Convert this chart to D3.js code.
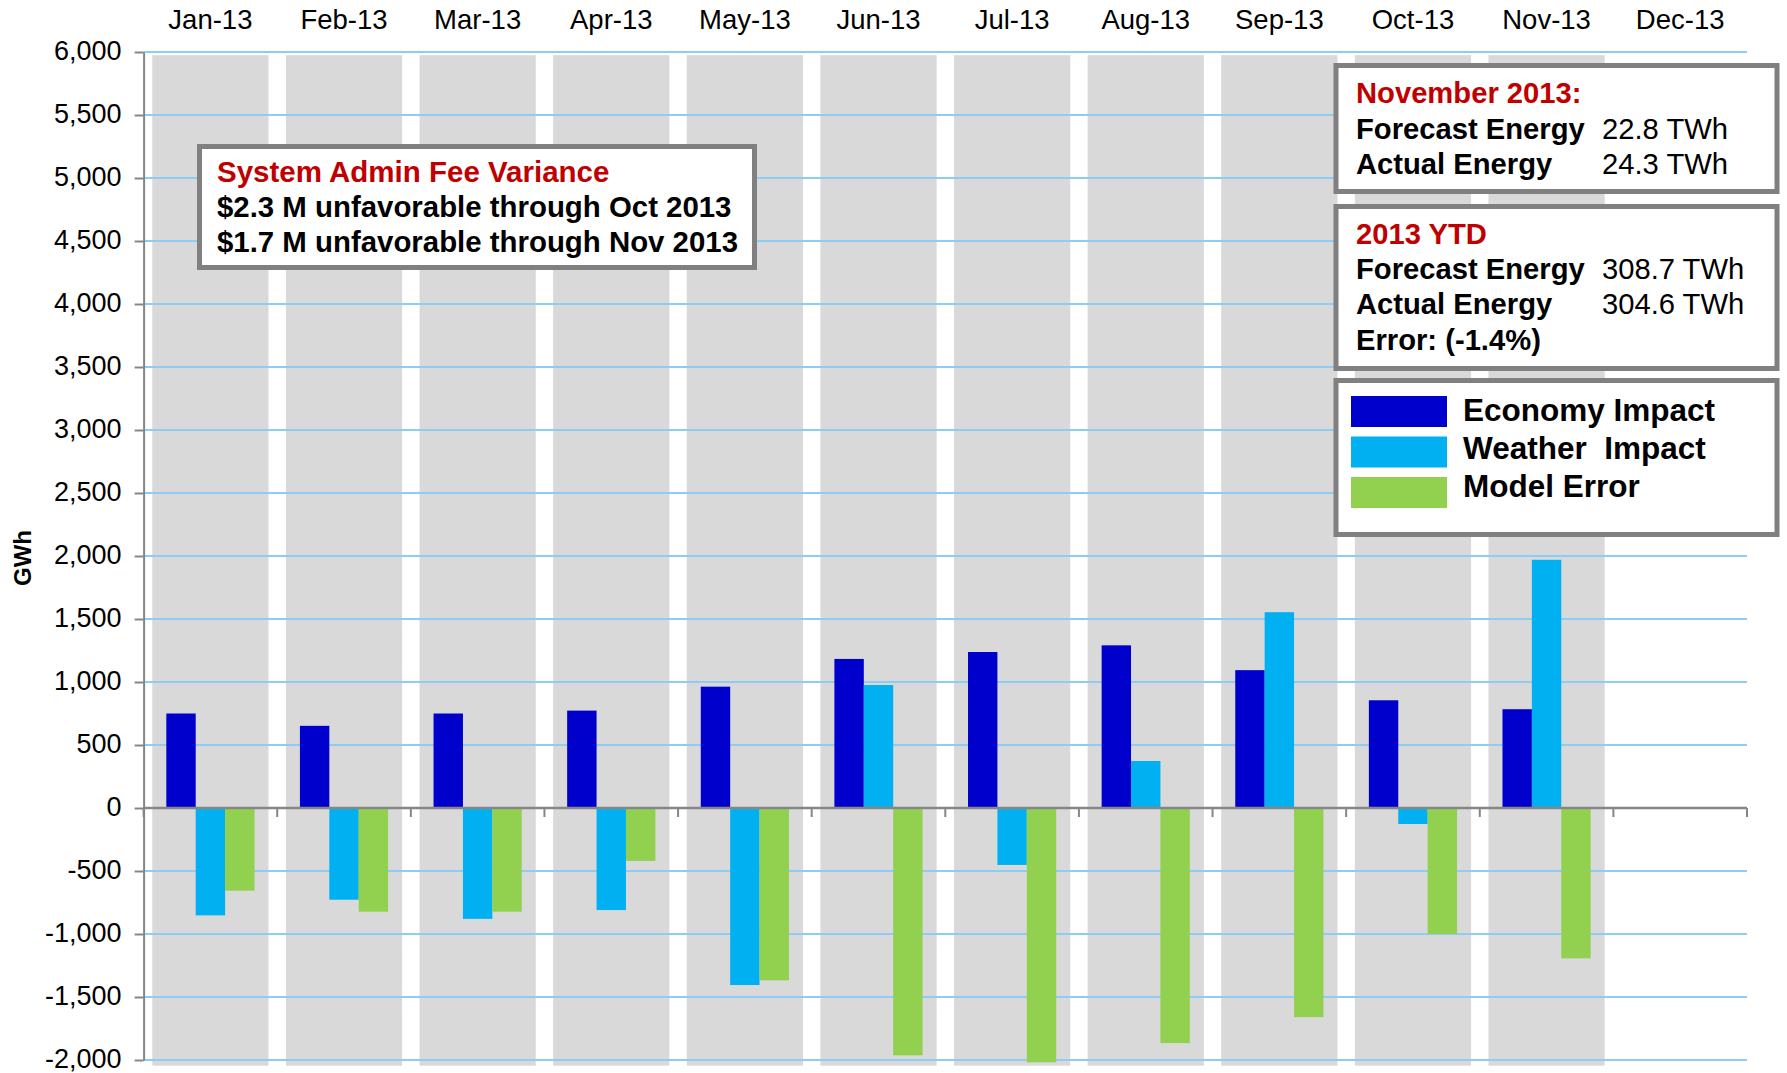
<!DOCTYPE html>
<html>
<head>
<meta charset="utf-8">
<script src="https://cdn.jsdelivr.net/npm/d3@7"></script>
<style>
  body { margin: 0; background: #fff; }
  svg { display: block; font-family: "Liberation Sans", Arial, sans-serif; }
</style>
</head>
<body>
<svg id="chart"></svg>
<script>
const months = ["Jan-13","Feb-13","Mar-13","Apr-13","May-13","Jun-13","Jul-13","Aug-13","Sep-13","Oct-13","Nov-13","Dec-13"];
const economy = [750, 652, 750, 773, 963, 1183, 1238, 1291, 1094, 855, 784, null];
const weather = [-852, -728, -880, -810, -1405, 976, -452, 373, 1554, -127, 1970, null];
const modelError = [-656, -823, -823, -420, -1368, -1963, -2018, -1866, -1660, -1000, -1193, null];
const shadedMonths = ["Jan-13","Feb-13","Mar-13","Apr-13","May-13","Jun-13","Jul-13","Aug-13","Sep-13","Oct-13","Nov-13"];
const yTicks = [-2000,-1500,-1000,-500,0,500,1000,1500,2000,2500,3000,3500,4000,4500,5000,5500,6000];

const seriesNames = ["Economy Impact", "Weather  Impact", "Model Error"];
const seriesColors = ["#0000cc", "#00b0f0", "#92d050"];

const W = 1787, H = 1073;
const margin = {top: 52, right: 40, bottom: 13, left: 143.6};

const svg = d3.select("#chart").attr("width", W).attr("height", H);

const x = d3.scaleBand().domain(months)
    .range([margin.left, W - margin.right]).paddingInner(0).paddingOuter(0);
const xShade = d3.scaleBand().domain(months)
    .range([margin.left, W - margin.right]).paddingInner(0.13).paddingOuter(0.065);
const xGroup = d3.scaleBand().domain(months)
    .range([margin.left, W - margin.right]).paddingInner(0.34).paddingOuter(0.17);
const xSub = d3.scaleBand().domain([0, 1, 2]).range([0, xGroup.bandwidth()]);
const y = d3.scaleLinear().domain([-2000, 6000]).range([H - margin.bottom, margin.top]);

// grey background columns
svg.append("g").selectAll("rect")
  .data(shadedMonths)
  .join("rect")
    .attr("x", d => xShade(d))
    .attr("width", xShade.bandwidth())
    .attr("y", y(5975))
    .attr("height", y(-2045) - y(5975))
    .attr("fill", "#d9d9d9");

// gridlines
svg.append("g").selectAll("line")
  .data(yTicks)
  .join("line")
    .attr("x1", margin.left)
    .attr("x2", W - margin.right)
    .attr("y1", d => y(d))
    .attr("y2", d => y(d))
    .attr("stroke", "#8ecbf5")
    .attr("stroke-width", 2);

// bars
const series = [economy, weather, modelError];
series.forEach((vals, i) => {
  svg.append("g").selectAll("rect")
    .data(months.map((m, j) => ({m, v: vals[j]})).filter(d => d.v != null))
    .join("rect")
      .attr("x", d => xGroup(d.m) + xSub(i))
      .attr("width", xSub.bandwidth())
      .attr("y", d => y(Math.max(0, d.v)))
      .attr("height", d => Math.abs(y(d.v) - y(0)))
      .attr("fill", seriesColors[i]);
});

// y axis
const fmt = d3.formatLocale({decimal: ".", thousands: ",", grouping: [3], currency: ["$", ""], minus: "-"}).format(",");
const yAxis = svg.append("g")
    .attr("transform", `translate(${margin.left},0)`)
    .call(d3.axisLeft(y).tickValues(yTicks).tickFormat(fmt).tickSize(9).tickPadding(13).tickSizeOuter(0));
yAxis.select(".domain").attr("stroke", "#868686").attr("stroke-width", 2);
yAxis.selectAll(".tick line").attr("stroke", "#868686").attr("stroke-width", 2);
yAxis.selectAll(".tick text").attr("font-size", 27).attr("fill", "#000").attr("dy", "0.28em");

// x axis line at zero with ticks between months
const xAxis = svg.append("g");
xAxis.append("line")
    .attr("x1", margin.left).attr("x2", W - margin.right)
    .attr("y1", y(0)).attr("y2", y(0))
    .attr("stroke", "#868686").attr("stroke-width", 2.5);
xAxis.selectAll(".xt")
  .data(d3.range(months.length + 1))
  .join("line")
    .attr("class", "xt")
    .attr("x1", i => margin.left + i * x.step())
    .attr("x2", i => margin.left + i * x.step())
    .attr("y1", y(0)).attr("y2", y(0) + 9)
    .attr("stroke", "#868686").attr("stroke-width", 2);

// month labels on top
const topAxis = svg.append("g")
    .attr("transform", "translate(0,36)")
    .call(d3.axisTop(x).tickSize(0).tickPadding(7));
topAxis.select(".domain").remove();
topAxis.selectAll(".tick text").attr("font-size", 27.5).attr("fill", "#000");

// y axis title
svg.append("text")
    .attr("transform", `translate(31,${558}) rotate(-90)`)
    .attr("text-anchor", "middle")
    .attr("font-size", 24).attr("font-weight", "bold")
    .text("GWh");

// annotation boxes
function box(x0, y0, w, h) {
  svg.append("rect")
    .attr("x", x0).attr("y", y0).attr("width", w).attr("height", h)
    .attr("fill", "#fff").attr("stroke", "#808080").attr("stroke-width", 5);
}
function label(tx, ty, str, opts = {}) {
  svg.append("text")
    .attr("x", tx).attr("y", ty)
    .attr("font-size", opts.size || 29.2)
    .attr("font-weight", opts.weight || "bold")
    .attr("fill", opts.color || "#000")
    .style("white-space", "pre")
    .text(str);
}

box(199.5, 146.5, 555, 121);
label(217, 182, "System Admin Fee Variance", {color: "#c00000", size: 29.5});
label(217, 217, "$2.3 M unfavorable through Oct 2013", {size: 29.4});
label(217, 252, "$1.7 M unfavorable through Nov 2013", {size: 29.4});

box(1336, 65.5, 441, 126);
label(1356, 103, "November 2013:", {color: "#c00000"});
label(1356, 139, "Forecast Energy");
label(1602, 139, "22.8 TWh", {weight: "normal"});
label(1356, 174, "Actual Energy");
label(1602, 174, "24.3 TWh", {weight: "normal"});

box(1336, 206.5, 441, 162);
label(1356, 244, "2013 YTD", {color: "#c00000"});
label(1356, 279, "Forecast Energy");
label(1602, 279, "308.7 TWh", {weight: "normal"});
label(1356, 314, "Actual Energy");
label(1602, 314, "304.6 TWh", {weight: "normal"});
label(1356, 350, "Error: (-1.4%)");

box(1336, 380.5, 441, 154);
const legend = svg.append("g");
seriesNames.forEach((name, i) => {
  legend.append("rect")
    .attr("x", 1351).attr("y", 396 + i * 40.5)
    .attr("width", 96).attr("height", 31)
    .attr("fill", seriesColors[i]);
  legend.append("text")
    .attr("x", 1463).attr("y", 421 + i * 38)
    .attr("font-size", 31.5).attr("font-weight", "bold")
    .style("white-space", "pre")
    .text(name);
});
</script>
</body>
</html>
